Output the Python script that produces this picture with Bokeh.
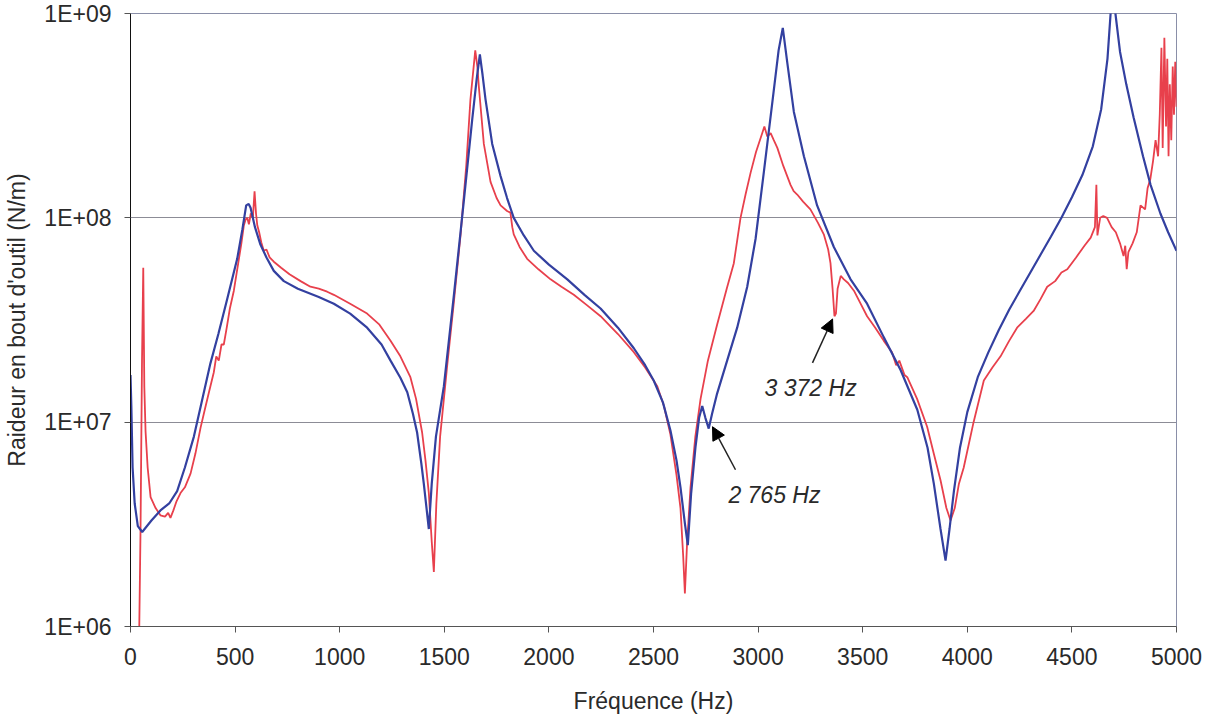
from bokeh.plotting import figure
from bokeh.models import (Range1d, FixedTicker, CustomJSTickFormatter, Arrow,
                          NormalHead, Label)
from bokeh.embed import file_html
from bokeh.resources import INLINE

# ---- data ----
blue_f = [0, 4, 10, 20, 35, 56, 100, 143, 185, 223, 260, 303, 340, 382, 420, 462, 510,
          535, 553, 565, 574, 595, 621, 650, 685, 733, 800, 900, 972, 1050, 1131, 1200,
          1243, 1290, 1323, 1350, 1370, 1390, 1402, 1415, 1426, 1440, 1460, 1498, 1546,
          1593, 1633, 1655, 1670, 1683, 1697, 1729, 1769, 1800, 1832, 1880, 1928, 2000,
          2088, 2170, 2247, 2330, 2406, 2460, 2501, 2545, 2581, 2610, 2629, 2650, 2664,
          2680, 2701, 2718, 2733, 2748, 2764, 2780, 2804, 2852, 2900, 2948, 2988, 3027,
          3067, 3098, 3118, 3139, 3171, 3219, 3282, 3362, 3442, 3521, 3601, 3681, 3761,
          3810, 3840, 3872, 3896, 3915, 3936, 3965, 4000, 4050, 4100, 4150, 4200, 4250,
          4300, 4350, 4400, 4450, 4500, 4550, 4600, 4640, 4670, 4685, 4696, 4708, 4730,
          4760, 4795, 4840, 4876, 4923, 4960, 5000]
blue_k = [1.7e7, 1.2e7, 6e6, 4e6, 3.1e6, 2.9e6, 3.3e6, 3.7e6, 4.0e6, 4.6e6, 6.0e6, 8.5e6,
          1.25e7, 1.94e7, 2.7e7, 4.0e7, 6.3e7, 8.8e7, 1.15e8, 1.17e8, 1.12e8, 9e7, 7.4e7,
          6.4e7, 5.5e7, 4.9e7, 4.5e7, 4.1e7, 3.8e7, 3.4e7, 2.9e7, 2.4e7, 2.0e7, 1.65e7,
          1.4e7, 1.1e7, 8.9e6, 6.3e6, 5.0e6, 3.8e6, 3.0e6, 5e6, 8.5e6, 1.5e7, 4.2e7, 1.2e8,
          3.0e8, 4.8e8, 6.3e8, 5.0e8, 3.8e8, 2.3e8, 1.6e8, 1.25e8, 1.0e8, 8.2e7, 6.9e7,
          5.9e7, 5.0e7, 4.2e7, 3.6e7, 2.9e7, 2.3e7, 1.9e7, 1.6e7, 1.25e7, 9.1e6, 6.5e6,
          4.8e6, 3.2e6, 2.5e6, 4.5e6, 7.6e6, 1.05e7, 1.2e7, 1.05e7, 9.3e6, 1.1e7, 1.38e7,
          2.0e7, 2.9e7, 4.6e7, 7.9e7, 1.66e8, 3.6e8, 6.6e8, 8.5e8, 5.8e8, 3.3e8, 2.0e8,
          1.15e8, 7.2e7, 5.0e7, 3.8e7, 2.6e7, 1.8e7, 1.15e7, 7.5e6, 5.0e6, 3.0e6, 2.1e6,
          3.0e6, 4.6e6, 7.5e6, 1.12e7, 1.66e7, 2.19e7, 2.82e7, 3.55e7, 4.37e7, 5.37e7,
          6.6e7, 8.1e7, 1.0e8, 1.26e8, 1.62e8, 2.24e8, 3.4e8, 6.0e8, 1.0e9, 1.5e9, 1.0e9,
          6.5e8, 4.5e8, 3.1e8, 2.0e8, 1.45e8, 1.05e8, 8.5e7, 6.9e7]

red_f = [0, 40, 48, 55, 61, 66, 72, 82, 96, 120, 143, 165, 180, 191, 205, 220, 239, 260,
         287, 310, 335, 355, 375, 398, 410, 422, 435, 446, 460, 475, 494, 515, 530, 542,
         550, 558, 566, 575, 585, 593, 600, 606, 615, 625, 637, 650, 665, 685, 720, 760,
         813, 860, 900, 940, 972, 1050, 1131, 1190, 1243, 1290, 1338, 1365, 1394, 1410,
         1426, 1440, 1450, 1462, 1480, 1514, 1545, 1578, 1605, 1625, 1648, 1658, 1665,
         1689, 1721, 1750, 1769, 1800, 1816, 1825, 1832, 1860, 1896, 1950, 2008, 2060,
         2119, 2180, 2247, 2330, 2406, 2460, 2518, 2550, 2581, 2610, 2629, 2642, 2650,
         2660, 2677, 2700, 2725, 2760, 2804, 2850, 2884, 2916, 2940, 2964, 2990, 3020,
         3030, 3044, 3060, 3075, 3092, 3120, 3155, 3170, 3187, 3215, 3250, 3285, 3314,
         3335, 3346, 3356, 3365, 3372, 3380, 3395, 3410, 3430, 3458, 3490, 3521, 3560,
         3601, 3640, 3660, 3675, 3700, 3713, 3760, 3808, 3840, 3872, 3900, 3920, 3940,
         3960, 3983, 4030, 4079, 4120, 4159, 4200, 4238, 4280, 4317, 4350, 4382, 4420,
         4450, 4478, 4520, 4560, 4590, 4610, 4617, 4622, 4635, 4650, 4668, 4690, 4710,
         4730, 4747, 4755, 4762, 4770, 4790, 4810, 4828, 4850, 4862, 4875, 4888, 4900,
         4912, 4920, 4928, 4934, 4942, 4950, 4956, 4962, 4968, 4975, 4982, 4988, 4994,
         5000]
red_k = [3e5, 7e5, 3e6, 2e7, 5.7e7, 1.5e7, 9e6, 6e6, 4.3e6, 3.8e6, 3.5e6, 3.45e6, 3.6e6,
         3.4e6, 3.7e6, 4.1e6, 4.5e6, 4.8e6, 5.6e6, 7e6, 9.4e6, 1.15e7, 1.4e7, 1.75e7,
         2.1e7, 2.0e7, 2.4e7, 2.4e7, 2.9e7, 3.6e7, 4.4e7, 6e7, 7.5e7, 9.2e7, 9.8e7, 1.0e8,
         9.3e7, 1.05e8, 1.0e8, 1.35e8, 1.05e8, 9.2e7, 8.5e7, 7.6e7, 6.9e7, 7.0e7, 6.4e7,
         6.1e7, 5.7e7, 5.3e7, 4.9e7, 4.6e7, 4.5e7, 4.35e7, 4.2e7, 3.8e7, 3.4e7, 3.0e7,
         2.5e7, 2.1e7, 1.66e7, 1.3e7, 8.9e6, 6.5e6, 4.5e6, 2.6e6, 1.85e6, 4e6, 8.5e6,
         1.9e7, 3.8e7, 8.3e7, 1.8e8, 3.8e8, 6.6e8, 5.5e8, 4.4e8, 2.3e8, 1.5e8, 1.25e8,
         1.15e8, 1.08e8, 1.06e8, 9e7, 8.3e7, 7.2e7, 6.3e7, 5.6e7, 5.0e7, 4.6e7, 4.2e7,
         3.75e7, 3.3e7, 2.7e7, 2.2e7, 1.85e7, 1.5e7, 1.2e7, 8.7e6, 5.5e6, 3.8e6, 2.2e6,
         1.45e6, 2.5e6, 4.8e6, 8.5e6, 1.3e7, 2e7, 3.0e7, 4.5e7, 6.0e7, 1.0e8, 1.3e8,
         1.66e8, 2.1e8, 2.6e8, 2.8e8, 2.5e8, 2.6e8, 2.4e8, 2.2e8, 1.8e8, 1.45e8, 1.35e8,
         1.3e8, 1.2e8, 1.1e8, 9.5e7, 8.3e7, 7e7, 6.0e7, 4.5e7, 3.3e7, 3.4e7, 4.5e7, 5.2e7,
         5.0e7, 4.8e7, 4.4e7, 3.8e7, 3.3e7, 2.9e7, 2.5e7, 2.2e7, 1.9e7, 2.0e7, 1.7e7,
         1.66e7, 1.3e7, 9.5e6, 7e6, 5.2e6, 3.8e6, 3.3e6, 3.8e6, 5e6, 6.0e6, 1.0e7, 1.6e7,
         1.85e7, 2.1e7, 2.5e7, 2.9e7, 3.2e7, 3.5e7, 4.0e7, 4.6e7, 4.9e7, 5.4e7, 5.6e7,
         6.4e7, 7.3e7, 8.0e7, 9.0e7, 1.45e8, 8.2e7, 1.0e8, 1.02e8, 1.0e8, 9e7, 8.5e7,
         7.5e7, 6.5e7, 7.3e7, 5.6e7, 6.8e7, 7.5e7, 8.5e7, 1.15e8, 1.1e8, 1.4e8, 1.55e8,
         1.9e8, 2.4e8, 2.0e8, 3.2e8, 6.8e8, 2.2e8, 7.6e8, 2.8e8, 6.0e8, 2.0e8, 4.5e8,
         2.4e8, 5.5e8, 3.2e8, 5.8e8, 3.5e8]

x_ticks = [0, 500, 1000, 1500, 2000, 2500, 3000, 3500, 4000, 4500, 5000]
y_ticks = [1e6, 1e7, 1e8, 1e9]

# annotations: label, text position, arrow tail, arrow head
ann_labels = ["3 372 Hz", "2 765 Hz"]
ann_text_f = [3251, 3078]
ann_text_k = [1.47e7, 4.4e6]
ann_tail_f = [3260, 2892]
ann_tail_k = [1.95e7, 5.85e6]
ann_head_f = [3356, 2782]
ann_head_k = [3.2e7, 9.5e6]

FONT = "Liberation Sans"
TXT = "#2a2a2a"

p = figure(width=1212, height=716, y_axis_type="log",
           x_range=Range1d(0, 5000), y_range=Range1d(1e6, 1e9),
           output_backend="svg", toolbar_location=None,
           min_border_left=130, min_border_right=36,
           min_border_top=13, min_border_bottom=89)

p.outline_line_color = "#8a8fa8"
p.outline_line_width = 1
p.background_fill_color = "white"
p.border_fill_color = "white"

p.xgrid.visible = False
p.ygrid.ticker = FixedTicker(ticks=y_ticks)
p.ygrid.grid_line_color = "#8c8c96"
p.ygrid.grid_line_width = 1

p.xaxis.ticker = FixedTicker(ticks=x_ticks)
p.yaxis.ticker = FixedTicker(ticks=y_ticks)
p.yaxis.formatter = CustomJSTickFormatter(
    code="return '1E+0' + Math.round(Math.log10(tick));")

for ax in (p.xaxis[0], p.yaxis[0]):
    ax.minor_tick_line_color = None
    ax.major_tick_in = 0
    ax.major_tick_out = 6
    ax.major_label_text_font = FONT
    ax.major_label_text_font_size = "23px"
    ax.major_label_text_color = TXT
    ax.axis_label_text_font = FONT
    ax.axis_label_text_font_size = "23px"
    ax.axis_label_text_font_style = "normal"
    ax.axis_label_text_color = TXT

p.xaxis.axis_line_color = "#555555"
p.xaxis.major_tick_line_color = "#555555"
p.yaxis.axis_line_color = "#111111"
p.yaxis.major_tick_line_color = "#555555"
p.xaxis.major_label_standoff = 15
p.yaxis.major_label_standoff = 13
p.xaxis.axis_label = "Fréquence (Hz)"
p.yaxis.axis_label = "Raideur en bout d'outil (N/m)"
p.xaxis.axis_label_standoff = 20
p.yaxis.axis_label_standoff = 11

p.line(red_f, red_k, line_color="#e8404c", line_width=1.8)
p.line(blue_f, blue_k, line_color="#3340a0", line_width=2.2)

for i in range(len(ann_labels)):
    p.add_layout(Arrow(end=NormalHead(size=13, fill_color="black", line_color="black"),
                       x_start=ann_tail_f[i], y_start=ann_tail_k[i],
                       x_end=ann_head_f[i], y_end=ann_head_k[i],
                       line_color="#222222", line_width=1.5))
    p.add_layout(Label(x=ann_text_f[i], y=ann_text_k[i], text=ann_labels[i],
                       text_font=FONT, text_font_size="23px",
                       text_font_style="italic", text_color=TXT,
                       text_align="center", text_baseline="middle"))

open("out.html", "w").write(file_html(p, INLINE))
